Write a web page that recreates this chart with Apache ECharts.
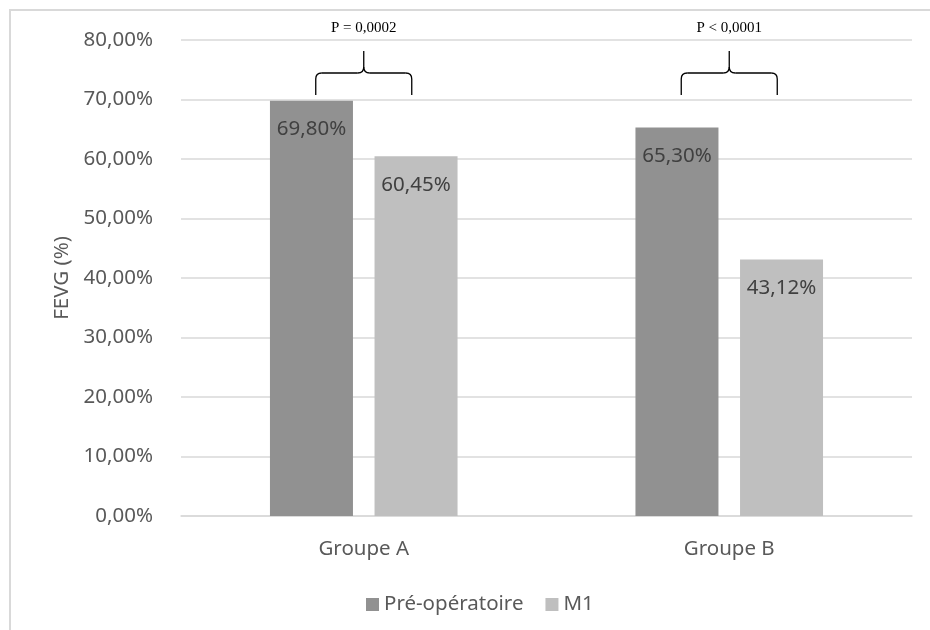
<!DOCTYPE html>
<html><head><meta charset="utf-8">
<script src="https://cdn.jsdelivr.net/npm/echarts@6/dist/echarts.min.js"></script>
<style>html,body{margin:0;padding:0;background:#fff}#c{width:930px;height:630px}</style>
</head><body><div id="c"></div>
<script>
var categories = ['Groupe A', 'Groupe B'];
var preOp = [69.80, 65.30];
var m1 = [60.45, 43.12];
var seriesNames = ['Pré-opératoire', 'M1'];
var pValues = ['P = 0,0002', 'P < 0,0001'];
var yMin = 0, yMax = 80, yStep = 10;

function pct(v){ return v.toFixed(2).replace('.', ',') + '%'; }
var FONT = 'Noto Sans';
var FS = 20.5;
var chart = echarts.init(document.getElementById('c'), null, {renderer:'canvas'});
var labelCfg = {show:true, position:'insideTop', distance:18, color:'#404040', fontSize:FS, fontFamily:FONT,
  formatter:function(p){return pct(p.value);}};
chart.setOption({
  animation:false,
  backgroundColor:'#fff',
  grid:{left:181, right:18, top:40, bottom:114, containLabel:false},
  legend:{data:seriesNames, left:361, top:589, itemWidth:13, itemHeight:13, itemGap:22, icon:'rect',
    textStyle:{fontFamily:FONT, fontSize:FS, color:'#595959'}},
  xAxis:{type:'category', data:categories, axisTick:{show:false},
    axisLine:{lineStyle:{color:'#d9d9d9', width:1.5}},
    axisLabel:{fontFamily:FONT, fontSize:FS, color:'#595959', margin:23}},
  yAxis:{type:'value', min:yMin, max:yMax, interval:yStep, name:'FEVG (%)', nameLocation:'middle', nameGap:107,
    nameTextStyle:{fontFamily:FONT, fontSize:FS, color:'#595959'},
    axisLine:{show:false}, axisTick:{show:false},
    splitLine:{lineStyle:{color:'#d9d9d9', width:1.5}},
    axisLabel:{fontFamily:FONT, fontSize:FS, color:'#595959', margin:28, formatter:function(v){return pct(v);}}},
  series:[
    {name:seriesNames[0], type:'bar', data:preOp, barWidth:83, barGap:'26%', itemStyle:{color:'#919191'}, label:labelCfg},
    {name:seriesNames[1], type:'bar', data:m1, barWidth:83, barGap:'26%', itemStyle:{color:'#bfbfbf'}, label:labelCfg}
  ]
});

// braces and p-value annotations
var g = [{type:'rect', shape:{x:10, y:10, width:940, height:640}, style:{fill:'none', stroke:'#d9d9d9', lineWidth:2}, z:-1}];
var ls = {stroke:'#000', lineWidth:1.3, fill:'none'};
categories.forEach(function(c, i){
  var cx = chart.convertToPixel({xAxisIndex:0}, c);
  var yTop = chart.convertToPixel({yAxisIndex:0}, yMax);
  var left = cx - 48, right = cx + 48;
  var yb = yTop + 55, yh = yTop + 33, yt = yTop + 11, r = 6;
  g.push({type:'line', shape:{x1:left, y1:yb, x2:left, y2:yh + r}, style:ls});
  g.push({type:'bezierCurve', shape:{x1:left, y1:yh + r, x2:left + r, y2:yh, cpx1:left, cpy1:yh}, style:ls});
  g.push({type:'line', shape:{x1:left + r, y1:yh, x2:cx - r, y2:yh}, style:ls});
  g.push({type:'bezierCurve', shape:{x1:cx - r, y1:yh, x2:cx, y2:yh - r, cpx1:cx, cpy1:yh}, style:ls});
  g.push({type:'line', shape:{x1:cx, y1:yh - r, x2:cx, y2:yt}, style:ls});
  g.push({type:'bezierCurve', shape:{x1:cx, y1:yh - r, x2:cx + r, y2:yh, cpx1:cx, cpy1:yh}, style:ls});
  g.push({type:'line', shape:{x1:cx + r, y1:yh, x2:right - r, y2:yh}, style:ls});
  g.push({type:'bezierCurve', shape:{x1:right - r, y1:yh, x2:right, y2:yh + r, cpx1:right, cpy1:yh}, style:ls});
  g.push({type:'line', shape:{x1:right, y1:yh + r, x2:right, y2:yb}, style:ls});
  g.push({type:'text', x:cx, y:yTop - 12, style:{text:pValues[i], font:'15px "Liberation Serif"', fill:'#000', textAlign:'center', textVerticalAlign:'middle'}});
});
chart.setOption({graphic:g});
</script></body></html>
